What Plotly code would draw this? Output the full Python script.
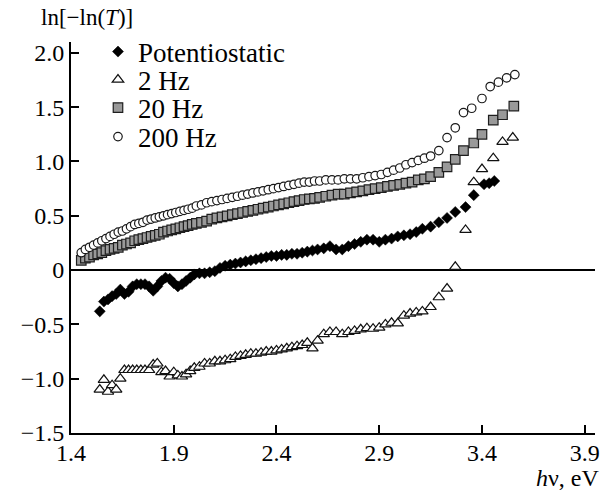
import plotly.graph_objects as go

# ---------------- data ----------------
# shared photon-energy grid for the 20 Hz and 200 Hz series (eV)
hv_a = [1.45, 1.47, 1.49, 1.51, 1.53, 1.55, 1.57, 1.59, 1.61, 1.63, 1.65, 1.67, 1.69,
        1.71, 1.73, 1.75, 1.77, 1.79, 1.81, 1.83, 1.85, 1.87, 1.89, 1.91, 1.93, 1.95,
        1.97, 1.99, 2.01, 2.035, 2.06, 2.085, 2.11, 2.135, 2.16, 2.185, 2.21, 2.235,
        2.26, 2.285, 2.31, 2.335, 2.36, 2.385, 2.41, 2.435, 2.46, 2.485, 2.51, 2.535,
        2.56, 2.585, 2.61, 2.64, 2.67, 2.70, 2.73, 2.76, 2.79, 2.82, 2.85, 2.88, 2.91,
        2.94, 2.97, 3.00, 3.03, 3.06, 3.09, 3.12]

hv_200_tail = [3.15, 3.19, 3.23, 3.27, 3.31, 3.35, 3.40, 3.44, 3.48, 3.52, 3.56]
hv_20_tail = [3.15, 3.19, 3.23, 3.27, 3.31, 3.36, 3.40, 3.455, 3.50, 3.555]

y_200 = [0.16, 0.19, 0.21, 0.23, 0.25, 0.27, 0.29, 0.31, 0.33, 0.35, 0.36, 0.38, 0.40,
         0.42, 0.43, 0.44, 0.46, 0.47, 0.48, 0.49, 0.50, 0.51, 0.52, 0.53, 0.54, 0.55,
         0.56, 0.57, 0.59, 0.60, 0.62, 0.63, 0.64, 0.65, 0.66, 0.67, 0.68, 0.69,
         0.70, 0.71, 0.72, 0.73, 0.74, 0.75, 0.76, 0.77, 0.78, 0.79, 0.80, 0.81,
         0.81, 0.82, 0.82, 0.83, 0.83, 0.83, 0.84, 0.84, 0.84, 0.85, 0.86, 0.87, 0.88,
         0.90, 0.92, 0.94, 0.97, 0.99, 1.01, 1.03]
y_200_tail = [1.05, 1.10, 1.22, 1.31, 1.45, 1.49, 1.58, 1.69, 1.73, 1.77, 1.80]

y_20 = [0.09, 0.11, 0.12, 0.14, 0.15, 0.16, 0.18, 0.19, 0.20, 0.21, 0.23, 0.24, 0.25,
        0.27, 0.28, 0.29, 0.30, 0.31, 0.32, 0.33, 0.35, 0.36, 0.37, 0.38, 0.39, 0.40,
        0.41, 0.42, 0.43, 0.44, 0.45, 0.47, 0.48, 0.49, 0.50, 0.51, 0.52, 0.53,
        0.54, 0.55, 0.56, 0.57, 0.58, 0.59, 0.60, 0.61, 0.62, 0.63, 0.64, 0.65,
        0.655, 0.66, 0.67, 0.68, 0.69, 0.70, 0.70, 0.71, 0.72, 0.73, 0.74, 0.75, 0.76,
        0.77, 0.78, 0.79, 0.80, 0.81, 0.83, 0.84]
y_20_tail = [0.86, 0.90, 0.95, 1.02, 1.10, 1.17, 1.25, 1.38, 1.43, 1.51]

# shared grid for the potentiostatic and 2 Hz series (eV)
hv_b = [1.54, 1.56, 1.58, 1.60, 1.62, 1.64, 1.66, 1.68, 1.70, 1.72, 1.74, 1.76, 1.78,
        1.80, 1.82, 1.84, 1.86, 1.88, 1.90, 1.92, 1.94, 1.96, 1.98, 2.00, 2.025, 2.05,
        2.075, 2.10, 2.125, 2.15, 2.175, 2.20, 2.225, 2.25, 2.275, 2.30, 2.325, 2.35,
        2.375, 2.40, 2.425, 2.45, 2.475, 2.50, 2.525, 2.55, 2.575, 2.60, 2.63, 2.66,
        2.69, 2.72, 2.75, 2.78, 2.81, 2.84, 2.87, 2.90, 2.93, 2.96, 2.99, 3.02, 3.05,
        3.08, 3.11]

hv_pot_tail = [3.15, 3.19, 3.23, 3.27, 3.32, 3.36, 3.41, 3.435, 3.46]
hv_2_tail = [3.15, 3.19, 3.23, 3.27, 3.32, 3.36, 3.40, 3.455, 3.50, 3.55]

y_pot = [-0.38, -0.29, -0.27, -0.24, -0.22, -0.18, -0.22, -0.20, -0.15, -0.13, -0.13,
         -0.13, -0.15, -0.19, -0.15, -0.10, -0.07, -0.08, -0.12, -0.15, -0.13, -0.10,
         -0.07, -0.04, -0.03, -0.03, -0.02, -0.01, 0.02, 0.04, 0.05, 0.06, 0.07, 0.08,
         0.09, 0.10, 0.11, 0.12, 0.13, 0.13, 0.14, 0.14, 0.15, 0.15, 0.16, 0.17, 0.18,
         0.19, 0.20, 0.22, 0.19, 0.19, 0.22, 0.24, 0.26, 0.28, 0.28, 0.26, 0.28, 0.29,
         0.31, 0.32, 0.33, 0.35, 0.38]
y_pot_tail = [0.40, 0.44, 0.48, 0.535, 0.58, 0.69, 0.79, 0.80, 0.82]

y_2 = [-1.10, -1.01, -1.12, -1.06, -1.10, -1.00, -0.92, -0.92, -0.92, -0.92, -0.92,
       -0.92, -0.92, -0.87, -0.86, -0.94, -0.93, -0.98, -0.94, -0.97, -0.98, -0.96,
       -0.93, -0.90, -0.89, -0.86, -0.86, -0.84, -0.84, -0.83, -0.82, -0.80, -0.79,
       -0.78, -0.77, -0.77, -0.76, -0.75, -0.75, -0.74, -0.73, -0.72, -0.71, -0.70,
       -0.69, -0.67, -0.72, -0.65, -0.59, -0.57, -0.57, -0.59, -0.57, -0.56, -0.545,
       -0.535, -0.54, -0.53, -0.50, -0.485, -0.49, -0.42, -0.40, -0.39, -0.38]
y_2_tail = [-0.34, -0.25, -0.17, 0.03, 0.37, 0.81, 0.93, 1.03, 1.18, 1.22]

series_names = ["Potentiostatic", "2 Hz", "20 Hz", "200 Hz"]

x_ticks = [1.4, 1.9, 2.4, 2.9, 3.4, 3.9]
x_ticklabels = ["1.4", "1.9", "2.4", "2.9", "3.4", "3.9"]
y_ticks = [-1.5, -1.0, -0.5, 0, 0.5, 1.0, 1.5, 2.0]
y_ticklabels = ["\u22121.5", "\u22121.0", "\u22120.5", "0", "0.5", "1.0", "1.5", "2.0"]

# ---------------- figure ----------------
FONT = "Liberation Serif, Times New Roman, serif"
fig = go.Figure()

fig.add_trace(go.Scatter(
    x=hv_a + hv_20_tail, y=y_20 + y_20_tail, mode="markers", name=series_names[2],
    marker=dict(symbol="square", size=9.5, color="#999999", line=dict(color="#1e1e1e", width=1.2)),
    legend="legend3"))
fig.add_trace(go.Scatter(
    x=hv_a + hv_200_tail, y=y_200 + y_200_tail, mode="markers", name=series_names[3],
    marker=dict(symbol="circle", size=8.5, color="white", line=dict(color="#1a1a1a", width=1.2)),
    legend="legend4"))
fig.add_trace(go.Scatter(
    x=hv_b + hv_2_tail, y=y_2 + y_2_tail, mode="markers", name=series_names[1],
    marker=dict(symbol="triangle-up", size=10, color="white", line=dict(color="#111", width=1.2)),
    legend="legend2"))
fig.add_trace(go.Scatter(
    x=hv_b + hv_pot_tail, y=y_pot + y_pot_tail, mode="markers", name=series_names[0],
    marker=dict(symbol="diamond", size=8.5, color="black", line=dict(color="black", width=0.5)),
    legend="legend"))

legend_common = dict(x=0.0515, xanchor="left", yanchor="middle", bgcolor="rgba(0,0,0,0)",
                     font=dict(family=FONT, size=27, color="black"), borderwidth=0)

fig.update_layout(
    width=613, height=490,
    margin=dict(l=71, r=18, t=42, b=57, autoexpand=False),
    paper_bgcolor="white", plot_bgcolor="white",
    font=dict(family=FONT, size=24, color="black"),
    showlegend=True,
    legend=dict(y=0.9744, **legend_common),
    legend2=dict(y=0.9028, **legend_common),
    legend3=dict(y=0.8312, **legend_common),
    legend4=dict(y=0.7570, **legend_common),
    xaxis=dict(range=[1.4, 3.95], showline=True, linecolor="black", linewidth=2,
               ticks="inside", ticklen=8, tickwidth=2, tickcolor="black",
               tickvals=x_ticks, ticktext=x_ticklabels, showgrid=False, zeroline=False,
               automargin=False, ticklabelstandoff=-3,
               tickfont=dict(family=FONT, size=24, color="black")),
    yaxis=dict(range=[-1.5, 2.1], showline=True, linecolor="black", linewidth=2,
               ticks="inside", ticklen=8, tickwidth=2, tickcolor="black",
               tickvals=y_ticks, ticktext=y_ticklabels, showgrid=False,
               zeroline=True, zerolinecolor="black", zerolinewidth=2,
               automargin=False,
               tickfont=dict(family=FONT, size=24, color="black")),
    annotations=[
        dict(text="ln[\u2212ln(<i>T</i>)]", xref="paper", yref="paper", x=0.0305, y=1.0614,
             xanchor="center", yanchor="middle", showarrow=False,
             font=dict(family=FONT, size=23, color="black")),
        dict(text="<i>h</i>\u03bd, eV", xref="paper", yref="paper", x=1.0134, y=-0.1150,
             xanchor="right", yanchor="middle", showarrow=False,
             font=dict(family=FONT, size=24, color="black")),
    ],
)

fig.write_html("out.html", config={"displayModeBar": False},
               post_script="document.body.style.margin='0px';")
